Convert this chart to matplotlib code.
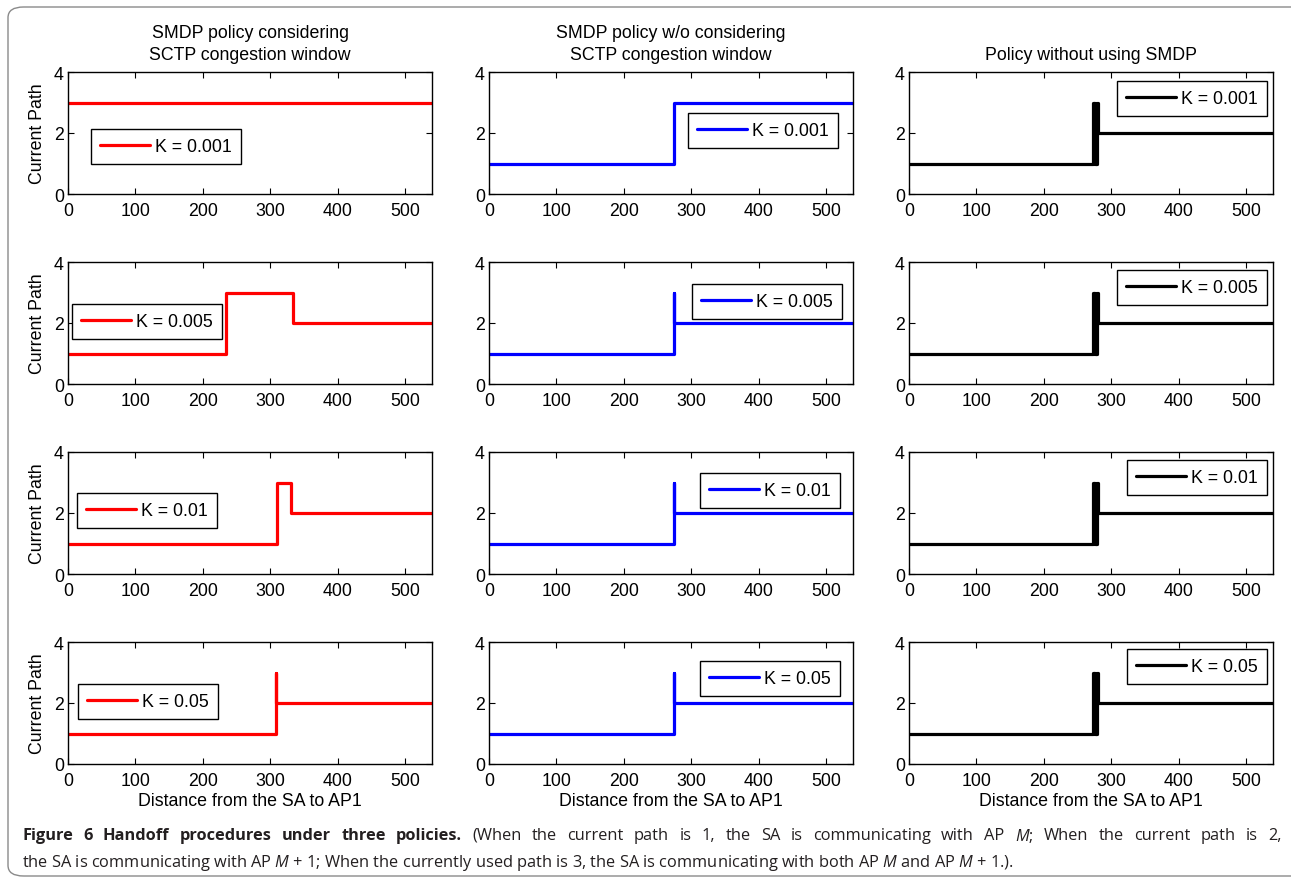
import numpy as np
import matplotlib
matplotlib.use('Agg')
import matplotlib.pyplot as plt
from matplotlib.patches import FancyBboxPatch

#--------- settings ---------
W, H = 1291, 887
plt.rcParams['font.family'] = ['Liberation Sans', 'DejaVu Sans']
plt.rcParams['mathtext.fontset'] = 'custom'
plt.rcParams['mathtext.rm'] = 'Open Sans'
plt.rcParams['mathtext.it'] = 'Open Sans:italic'

#--------- data ---------
col_titles = ['SMDP policy considering\nSCTP congestion window',
              'SMDP policy w/o considering\nSCTP congestion window',
              'Policy without using SMDP']
col_colors = ['red', 'blue', 'black']
K_labels = ['K = 0.001', 'K = 0.005', 'K = 0.01', 'K = 0.05']

# step change points (distance) and path levels, one entry per K
red_x = [[0, 540], [0, 235, 334, 540], [0, 310, 331, 540], [0, 308, 308, 540]]
red_y = [[3, 3], [1, 3, 2, 2], [1, 3, 2, 2], [1, 3, 2, 2]]

blue_x = [[0, 275, 540], [0, 275, 275, 540], [0, 275, 275, 540], [0, 275, 275, 540]]
blue_y = [[1, 3, 3], [1, 3, 2, 2], [1, 3, 2, 2], [1, 3, 2, 2]]

# ping-pong between paths before settling on path 2
black_xs = [0, 273, 274, 275, 276, 277, 278, 279, 280, 540]
black_ys = [1, 3, 1, 3, 1, 3, 1, 3, 2, 2]
black_x = [black_xs] * 4
black_y = [black_ys] * 4

all_x = [red_x, blue_x, black_x]
all_y = [red_y, blue_y, black_y]

cap_bold = 'Figure 6 Handoff procedures under three policies.'
cap_line1 = ('(When the current path is 1, the SA is communicating with AP $M$; '
             'When the current path is 2,')
cap_line2 = ('the SA is communicating with AP $M$ + 1; When the currently used path is 3, '
             'the SA is communicating with both AP $M$ and AP $M$ + 1.).')

#--------- layout (pixels) ---------
col_left = [68, 489, 909]
ax_w = 364
row_top = [73, 263, 453, 643]
ax_h = 122
# upper-left corner of each legend box [col][row]
leg_pos = [[(91, 130), (72, 305), (77, 494), (78, 685)],
           [(688, 114), (692, 285), (700, 474), (700, 662)],
           [(1117, 82), (1117, 271), (1127, 461), (1127, 650)]]

fs = 12.8

fig = plt.figure(figsize=(W/100, H/100), dpi=100)

# rounded outer frame
frame = FancyBboxPatch((8/W, 1-877/H), (1320-8)/W, (877-8)/H,
                       boxstyle='round,pad=0,rounding_size=0.012',
                       transform=fig.transFigure, fill=False,
                       edgecolor='#8a8a8a', linewidth=1.0, clip_on=False)
fig.patches.append(frame)

for c in range(3):
    for r in range(4):
        ax = fig.add_axes([col_left[c]/W, 1-(row_top[r]+ax_h)/H, ax_w/W, ax_h/H])
        ax.step(all_x[c][r], all_y[c][r], where='post', color=col_colors[c],
                lw=2.3, label=K_labels[r], solid_capstyle='round',
                solid_joinstyle='round')
        ax.set_xlim(0, 540)
        ax.set_ylim(0, 4)
        ax.set_xticks([0, 100, 200, 300, 400, 500])
        ax.set_yticks([0, 2, 4])
        ax.tick_params(direction='in', top=True, right=True, length=4,
                       width=0.8, labelsize=fs)
        ax.tick_params(axis='x', pad=6)
        ax.tick_params(axis='y', pad=3)
        for s in ax.spines.values():
            s.set_linewidth(1.0)
        if c == 0:
            ax.set_ylabel('Current Path', fontsize=fs, labelpad=6)
        if r == 3:
            ax.set_xlabel('Distance from the SA to AP1', fontsize=fs, labelpad=2)
        if r == 0:
            ax.set_title(col_titles[c], fontsize=fs, pad=9, linespacing=1.4)
        lx, ly = leg_pos[c][r]
        leg = ax.legend(loc='upper left', bbox_to_anchor=(lx/W, 1-ly/H),
                        bbox_transform=fig.transFigure, borderaxespad=0,
                        fontsize=fs, handlelength=2.8, handletextpad=0.3,
                        borderpad=0.5, fancybox=False, framealpha=1)
        leg.get_frame().set_edgecolor('black')
        leg.get_frame().set_linewidth(1.0)

#--------- caption (first line justified) ---------
cap_fs = 11.8
cap_col = '#231f20'
x0, x1 = 22, 1282
words = [(w, 'bold') for w in cap_bold.split()] + [(w, 'normal') for w in cap_line1.split()]
txts = [fig.text(0, 1-836/H, w, fontsize=cap_fs, fontweight=fw, family='Open Sans',
                 color=cap_col, va='center') for w, fw in words]
fig.canvas.draw()
renderer = fig.canvas.get_renderer()
widths = [t.get_window_extent(renderer).width for t in txts]
gap = (x1 - x0 - sum(widths)) / (len(txts) - 1)
xpos = x0
for t, wd in zip(txts, widths):
    t.set_x(xpos/W)
    xpos += wd + gap

fig.text(x0/W, 1-863/H, cap_line2, fontsize=cap_fs, family='Open Sans',
         color=cap_col, va='center')

fig.savefig('out.png', dpi=100)
